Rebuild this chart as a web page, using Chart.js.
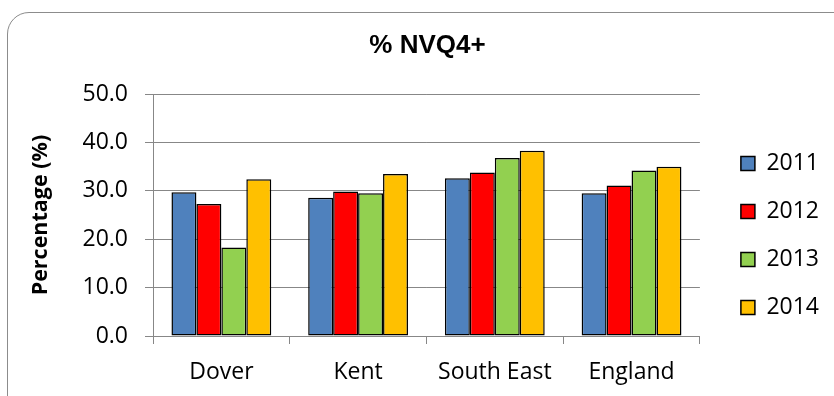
<!DOCTYPE html>
<html>
<head>
<meta charset="utf-8">
<script src="https://cdn.jsdelivr.net/npm/chart.js@4.4.1/dist/chart.umd.min.js"></script>
<style>
  html, body { margin: 0; padding: 0; background: #fff; overflow: hidden; }
  #wrap { position: relative; width: 834px; height: 396px; overflow: hidden; }
  #frame {
    position: absolute; left: 7px; top: 12px; width: 900px; height: 460px;
    border: 1.5px solid #8c8c8c; border-radius: 22px; box-sizing: border-box;
  }
  #chart { position: absolute; left: 0; top: 0; }
</style>
</head>
<body>
<div id="wrap">
  <div id="frame"></div>
  <canvas id="chart" width="834" height="396"></canvas>
</div>
<script>
// categories and values
const areas = ['Dover', 'Kent', 'South East', 'England'];
const years = ['2011', '2012', '2013', '2014'];
const values2011 = [29.7, 28.6, 32.6, 29.5];
const values2012 = [27.3, 29.9, 33.8, 31.1];
const values2013 = [18.3, 29.5, 36.8, 34.2];
const values2014 = [32.4, 33.5, 38.3, 35.0];
const yTicks = [0, 10, 20, 30, 40, 50];

const colours = ['#4f81bd', '#ff0000', '#92d050', '#ffc000'];
const allValues = [values2011, values2012, values2013, values2014];

let datasets = [];
for (let i = 0; i < years.length; i++) {
    datasets.push({
        label: years[i],
        data: allValues[i],
        backgroundColor: colours[i],
        borderColor: '#000000',
        borderWidth: 1.5,
        borderSkipped: false,
        barPercentage: 1.0,
        categoryPercentage: 0.73
    });
}

const gridGrey = '#878787';
const bodyFont = 'Open Sans';

new Chart(document.getElementById('chart'), {
    type: 'bar',
    data: {
        labels: areas,
        datasets: datasets
    },
    options: {
        responsive: false,
        animation: false,
        layout: {
            padding: { left: 26, right: 5, top: 0, bottom: 0 }
        },
        plugins: {
            title: {
                display: true,
                text: '% NVQ4+',
                color: '#000',
                font: { family: 'Liberation Sans', size: 26, weight: 'bold' },
                padding: { top: 30, bottom: 33 }
            },
            legend: {
                position: 'right',
                // empty title only pushes the items down to where they sit
                title: {
                    display: true,
                    text: '',
                    font: { size: 10 },
                    padding: { top: 63, bottom: 0 }
                },
                labels: {
                    color: '#000',
                    font: { family: bodyFont, size: 23 },
                    boxWidth: 14,
                    boxHeight: 14,
                    padding: 25
                }
            },
            tooltip: { enabled: false }
        },
        scales: {
            x: {
                afterFit: function(scale) { scale.height = 60; },
                grid: {
                    drawOnChartArea: false,
                    drawTicks: true,
                    tickLength: 8,
                    color: gridGrey,
                    offset: true
                },
                border: { color: gridGrey, width: 1 },
                ticks: {
                    color: '#000',
                    font: { family: bodyFont, size: 23 },
                    padding: 15
                }
            },
            y: {
                min: 0,
                max: 50,
                afterFit: function(scale) { scale.width = 127; },
                afterBuildTicks: function(scale) {
                    scale.ticks = yTicks.map(function(v) { return { value: v }; });
                },
                grid: {
                    color: gridGrey,
                    tickLength: 8
                },
                border: { color: gridGrey, width: 1 },
                ticks: {
                    color: '#000',
                    font: { family: bodyFont, size: 23 },
                    padding: 17,
                    callback: function(v) { return v.toFixed(1); }
                },
                title: {
                    display: true,
                    text: 'Percentage (%)',
                    color: '#000',
                    font: { family: bodyFont, size: 21.5, weight: 'bold' },
                    padding: { top: 2, bottom: 8 }
                }
            },
            // empty spacer between the plot and the legend
            gap: {
                type: 'linear',
                position: 'right',
                display: true,
                grid: { display: false },
                border: { display: false },
                ticks: { display: false },
                afterFit: function(scale) { scale.width = 16; }
            }
        }
    }
});
</script>
</body>
</html>
